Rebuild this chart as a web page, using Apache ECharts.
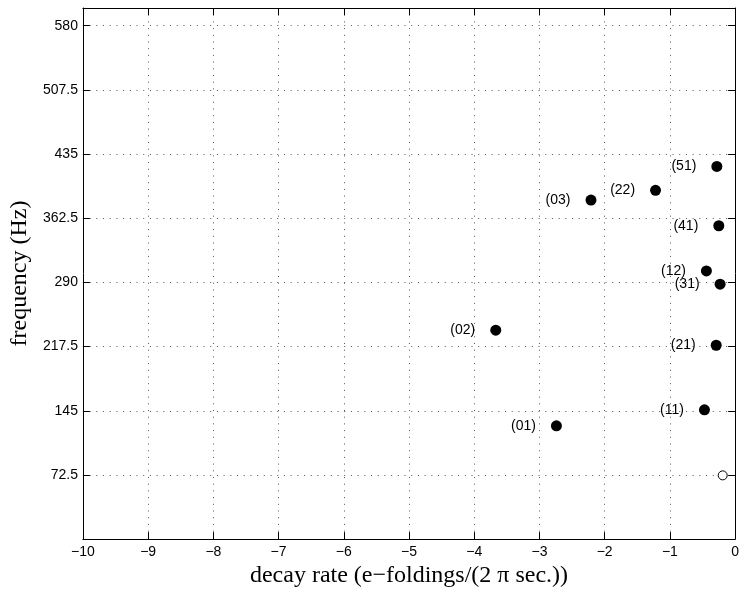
<!DOCTYPE html>
<html>
<head>
<meta charset="utf-8">
<title>Decay rate vs frequency</title>
<script src="https://cdn.jsdelivr.net/npm/echarts@6/dist/echarts.min.js"></script>
<style>
  html, body { margin: 0; padding: 0; background: #ffffff; }
  #chart { width: 742px; height: 593px; }
</style>
</head>
<body>
<div id="chart"></div>
<script>
// Mode identifiers with their decay rates and frequencies
const modeLabels  = ['(01)', '(02)', '(03)', '(11)', '(21)', '(31)', '(41)', '(51)', '(12)', '(22)'];
const decayRates  = [-2.74, -3.67, -2.21, -0.47, -0.29, -0.23, -0.25, -0.28, -0.44, -1.22];
const frequencies = [128, 236, 383, 146, 219, 288, 354, 421, 303, 394];

// Unlabelled mode drawn as an open circle
const openDecay = [-0.19];
const openFreq  = [72];

// Axis ranges and tick spacing
const xMin = -10, xMax = 0, xStep = 1;
const yMin = 0, yMax = 600, yStep = 72.5;

const sansFont = '"Liberation Sans", Arial, Helvetica, sans-serif';
const serifFont = '"Liberation Serif", "Times New Roman", Times, serif';

const labelledPoints = decayRates.map((d, i) => ({ value: [d, frequencies[i]], name: modeLabels[i] }));
const openPoints = openDecay.map((d, i) => [d, openFreq[i]]);

const minus = v => String(v).replace('-', '\u2212');

const gridLine = { show: true, lineStyle: { color: '#555', width: 1, type: [1, 5.7] } };
const frameLine = { show: true, onZero: false, lineStyle: { color: '#000', width: 1 } };
const innerTick = { show: true, inside: true, length: 7, lineStyle: { color: '#000', width: 1 } };

const chart = echarts.init(document.getElementById('chart'), null, { renderer: 'canvas' });
chart.setOption({
  animation: false,
  backgroundColor: '#ffffff',
  grid: { left: 77, right: 1, top: 8, bottom: 50, containLabel: false },
  xAxis: [
    {
      type: 'value', position: 'bottom', min: xMin, max: xMax, interval: xStep,
      axisLine: frameLine, axisTick: innerTick, splitLine: gridLine,
      axisLabel: { color: '#000', fontFamily: sansFont, fontSize: 14, margin: 6, formatter: minus },
      name: 'decay rate (e\u2212foldings/(2 \u03c0 sec.))',
      nameLocation: 'middle', nameGap: 14,
      nameTextStyle: { color: '#000', fontFamily: serifFont, fontSize: 24 }
    },
    {
      type: 'value', position: 'top', min: xMin, max: xMax, interval: xStep,
      axisLine: frameLine, axisTick: innerTick, splitLine: { show: false },
      axisLabel: { show: false }
    }
  ],
  yAxis: [
    {
      type: 'value', position: 'left', min: yMin, max: yMax, interval: yStep,
      axisLine: frameLine, axisTick: innerTick, splitLine: gridLine,
      axisLabel: {
        color: '#000', fontFamily: sansFont, fontSize: 14, margin: 5,
        formatter: v => (v <= yMin || v >= yMax) ? '' : String(v)
      },
      name: 'frequency (Hz)',
      nameLocation: 'middle', nameGap: 44,
      nameTextStyle: { color: '#000', fontFamily: serifFont, fontSize: 24 }
    },
    {
      type: 'value', position: 'right', min: yMin, max: yMax, interval: yStep,
      axisLine: frameLine, axisTick: innerTick, splitLine: { show: false },
      axisLabel: { show: false }
    }
  ],
  series: [
    {
      type: 'scatter', xAxisIndex: 0, yAxisIndex: 0,
      data: labelledPoints,
      symbol: 'circle', symbolSize: 11,
      itemStyle: { color: '#000', opacity: 1 },
      label: {
        show: true, position: 'left', distance: 15,
        formatter: p => p.name,
        color: '#000', fontFamily: sansFont, fontSize: 14
      }
    },
    {
      type: 'scatter', xAxisIndex: 0, yAxisIndex: 0,
      data: openPoints,
      symbol: 'circle', symbolSize: 9,
      itemStyle: { color: '#fff', borderColor: '#000', borderWidth: 1, opacity: 1 }
    }
  ]
});
</script>
</body>
</html>
